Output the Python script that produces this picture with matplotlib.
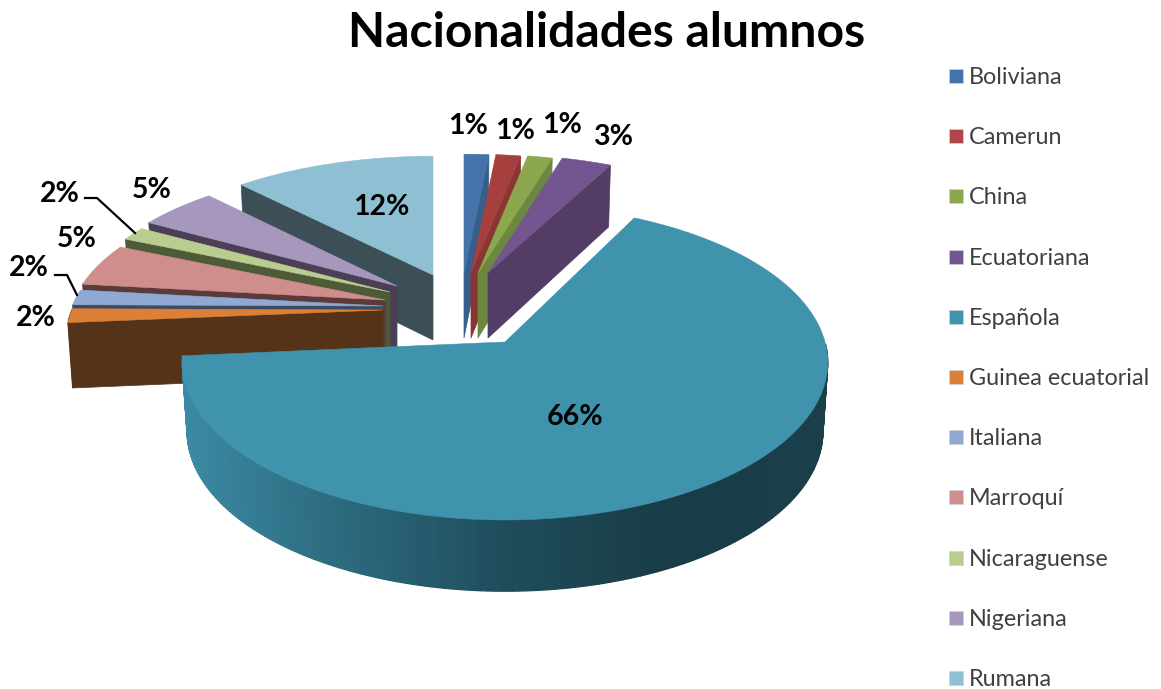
import numpy as np
import matplotlib
matplotlib.use('Agg')
import matplotlib.pyplot as plt
from matplotlib.colors import LinearSegmentedColormap
from matplotlib.patches import Polygon, Rectangle

plt.rcParams['font.family'] = ['Lato', 'DejaVu Sans']

# Datos
titulo = 'Nacionalidades alumnos'
paises = ['Boliviana', 'Camerun', 'China', 'Ecuatoriana', 'Española', 'Guinea ecuatorial',
          'Italiana', 'Marroquí', 'Nicaraguense', 'Nigeriana', 'Rumana']
valores = [1.49, 1.49, 1.49, 3.0, 66.4, 1.55, 1.7, 4.8, 1.55, 4.8, 12.1]

# Colores de cara superior y de lados
col_top = ['#4373a8', '#a5403e', '#8ba84e', '#735590', '#3f93ad', '#dc8038',
           '#8fa9d3', '#cf8d8b', '#b8cd8f', '#a698bd', '#8fbfd2']
col_lado = ['#375f8c', '#8a3533', '#6b8740', '#533d64', '#1f4a58', '#553318',
            '#3d4a60', '#5a3a3a', '#4e5a38', '#4a3f55', '#3c4f57']
col_leyenda = ['#4373a8', '#b0464a', '#8ba84e', '#735590', '#3f93ad', '#dc8038',
               '#8fa9d3', '#cf8d8b', '#b8cd8f', '#a698bd', '#8fbfd2']

# Vertice de cada porcion (porciones separadas) en pixeles
vert_x = [464, 471, 478, 488, 505, 383, 383, 385, 390, 397, 433]
vert_y = [273, 273, 273, 273, 342, 310, 306, 300, 292, 286, 275]

# Radio horizontal y profundidad de cada porcion
radio_a = [317, 317, 317, 317, 320, 311, 311, 311, 311, 311, 317]
fondo = [65, 65, 65, 65, 69, 65, 65, 65, 65, 65, 65]

# Posicion de las etiquetas
etq_x = [468, 515, 562, 613, 575, 36, 29, 77, 60, 152, 381]
etq_y = [126, 131, 125, 137, 417, 318, 268, 239, 194, 190, 207]

# Perspectiva: la porcion grande tiene otro ajuste
B_RESTO, P_RESTO = 141.0, 0.187
B_ESP, P_ESP = 155.0, 0.129
ESCALA = 0.985

fig = plt.figure(figsize=(11.61, 6.89), dpi=100)
ax = fig.add_axes([0, 0, 1, 1])
ax.set_xlim(0, 1161)
ax.set_ylim(689, 0)
ax.axis('off')

grad = LinearSegmentedColormap.from_list('g', ['#3b8aa3', '#2c6a7e', '#1f4d5c', '#193c47', '#1a3f4b'])


def proy(i, ang):
    # angulo en grados, sentido horario desde arriba
    t = np.radians(ang)
    u, v = np.sin(t), np.cos(t)
    b, p = (B_ESP, P_ESP) if i == 4 else (B_RESTO, P_RESTO)
    w = 1 + p * v
    return radio_a[i] * u / w, -b * v / w, w


def arriba(i, ang):
    x, y, w = proy(i, ang)
    return vert_x[i] + x, vert_y[i] + y


def abajo(i, ang):
    x, y, w = proy(i, ang)
    return vert_x[i] + ESCALA * x, vert_y[i] + ESCALA * y + fondo[i] / np.sqrt(w)


total = sum(valores)
ini = np.cumsum([0] + valores[:-1]) / total * 360
fin = np.cumsum(valores) / total * 360

# orden de dibujo: de atras hacia delante
orden = [0, 1, 2, 3, 10, 9, 8, 7, 6, 5, 4]
for i in orden:
    cx, cy = vert_x[i], vert_y[i]
    a0, a1 = ini[i], fin[i]
    base = (cx, cy + fondo[i])

    # caras de corte visibles
    if np.sin(np.radians(a0)) < -1e-6:
        ax.add_patch(Polygon([(cx, cy), arriba(i, a0), abajo(i, a0), base],
                             fc=col_lado[i], ec=col_lado[i], lw=0.5))
    if np.sin(np.radians(a1)) > 1e-6:
        ax.add_patch(Polygon([(cx, cy), arriba(i, a1), abajo(i, a1), base],
                             fc=col_lado[i], ec=col_lado[i], lw=0.5))

    # lado exterior (mitad delantera)
    angs = np.arange(a0, a1 + 1, 1.0)
    angs = np.clip(angs, a0, a1)
    for a, b in zip(angs[:-1], angs[1:]):
        if 90 <= a <= 270:
            p1, p2 = arriba(i, a), arriba(i, b)
            if i == 4:
                c = grad(np.clip((p1[0] - 180) / 650, 0, 1))
            else:
                c = col_lado[i]
            ax.add_patch(Polygon([p1, p2, abajo(i, b), abajo(i, a)],
                                 fc=c, ec=c, lw=0.9))

    # cara superior
    pts = [(cx, cy)] + [arriba(i, a) for a in np.linspace(a0, a1, 120)]
    ax.add_patch(Polygon(pts, fc=col_top[i], ec=col_top[i], lw=0.4))

# Lineas guia
ax.plot([85, 97, 135], [198, 198, 233], color='black', lw=1.6)
ax.plot([55, 67, 77], [275, 275, 295], color='black', lw=1.6)

# Etiquetas de porcentaje
for x, y, v in zip(etq_x, etq_y, valores):
    ax.text(x, y, '%d%%' % round(v / total * 100), ha='center', va='center',
            fontsize=20.5, fontweight='bold', color='black')

ax.text(607, 33, titulo, ha='center', va='center', fontsize=34.7, fontweight='bold', color='black')

# Leyenda
for k, nombre in enumerate(paises):
    y = 76 + k * 60.2
    ax.add_patch(Rectangle((949, y - 7), 14, 14, fc=col_leyenda[k], ec='#c8d4e0', lw=0.5))
    ax.text(969, y + 1.5, nombre, ha='left', va='center', fontsize=16.8, color='#404040')

fig.savefig('out.png', dpi=100)
